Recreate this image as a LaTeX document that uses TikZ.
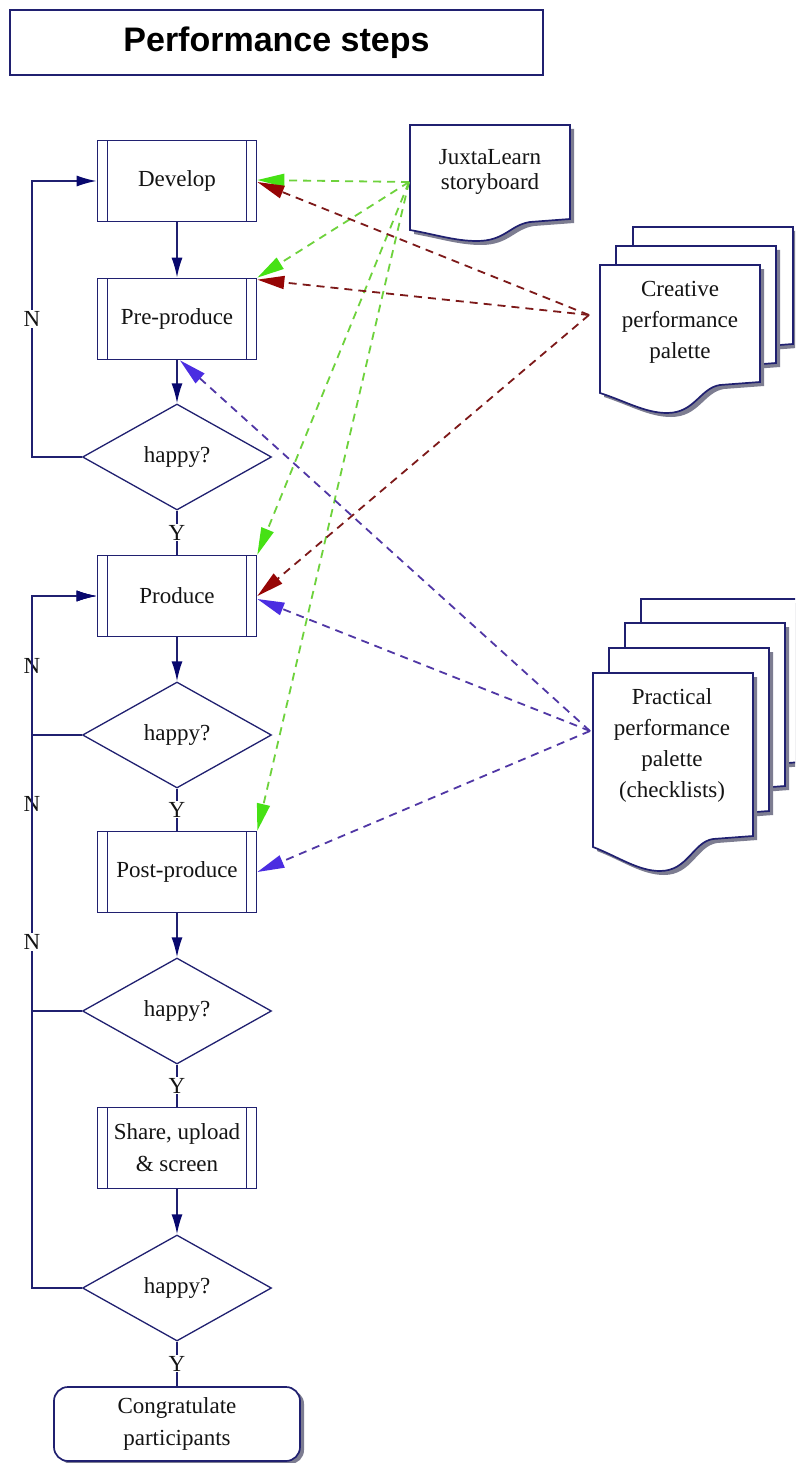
\documentclass[tikz,border=0pt]{standalone}
\usepackage{fontspec}
\setmainfont{Liberation Serif}
\newfontfamily\titlefont{Liberation Sans}
\usetikzlibrary{shapes.geometric,arrows.meta,calc,shadows}
\definecolor{navy}{RGB}{32,32,112}
\definecolor{arrnavy}{RGB}{8,8,110}
\definecolor{textc}{RGB}{20,20,20}
\definecolor{greenl}{RGB}{110,210,60}
\definecolor{greenh}{RGB}{70,225,20}
\definecolor{redl}{RGB}{125,25,25}
\definecolor{redh}{RGB}{150,5,5}
\definecolor{purl}{RGB}{80,55,165}
\definecolor{purh}{RGB}{75,45,225}
\definecolor{shadowc}{RGB}{125,125,145}
% document shape: #1 x0, #2 y0, #3 left height, #4 dip depth
\newcommand{\mydocshape}[4]{%
  \path[fill=shadowc, xshift=4pt, yshift=-4pt]
    (#1,#2) -- ({#1+160},#2) -- ({#1+160},{#2+#3-11}) -- ({#1+120},{#2+#3-8})
    .. controls ({#1+100},{#2+#3-5}) and ({#1+95},{#2+#3+#4}) .. ({#1+67},{#2+#3+#4})
    .. controls ({#1+45},{#2+#3+#4}) and ({#1+25},{#2+#3+0.4*#4}) .. (#1,{#2+#3}) -- cycle;
  \path[fill=white, draw=navy, line width=1.7pt]
    (#1,#2) -- ({#1+160},#2) -- ({#1+160},{#2+#3-11}) -- ({#1+120},{#2+#3-8})
    .. controls ({#1+100},{#2+#3-5}) and ({#1+95},{#2+#3+#4}) .. ({#1+67},{#2+#3+#4})
    .. controls ({#1+45},{#2+#3+#4}) and ({#1+25},{#2+#3+0.4*#4}) .. (#1,{#2+#3}) -- cycle;
}
\begin{document}
\begin{tikzpicture}[x=1pt,y=-1pt,
  font=\fontsize{23}{30}\selectfont,
  every node/.style={text=textc},
  proc/.style={draw=navy, line width=1.7pt, fill=white, minimum width=159pt,
    minimum height=81pt, inner sep=2pt, align=center,
    path picture={
      \draw[navy, line width=1.7pt]
        ($(path picture bounding box.north west)+(10pt,0pt)$) --
        ($(path picture bounding box.south west)+(10pt,0pt)$);
      \draw[navy, line width=1.7pt]
        ($(path picture bounding box.north east)+(-10pt,0pt)$) --
        ($(path picture bounding box.south east)+(-10pt,0pt)$);
    }},
  dec/.style={diamond, draw=navy, line width=1.3pt, fill=white,
    minimum width=189pt, minimum height=106pt, inner sep=0pt},
  flow/.style={draw=navy, line width=1.7pt,
    -{Latex[length=20pt,width=11pt,color=arrnavy]}},
  plain/.style={draw=navy, line width=1.7pt},
  lab/.style={fill=white, inner sep=1pt},
  doctext/.style={align=center, font=\fontsize{23}{31}\selectfont},
  gdash/.style={draw=greenl, line width=1.8pt, dash pattern=on 8pt off 6pt,
    -{Triangle[length=27pt,width=13pt,color=greenh]}},
  rdash/.style={draw=redl, line width=1.8pt, dash pattern=on 8pt off 6pt,
    -{Triangle[length=27pt,width=13pt,color=redh]}},
  pdash/.style={draw=purl, line width=1.8pt, dash pattern=on 8pt off 6pt,
    -{Triangle[length=27pt,width=13pt,color=purh]}}
]
\useasboundingbox (0,0) rectangle (795,1463);
\fill[white] (0,0) rectangle (795,1463);
\clip (0,0) rectangle (795,1463);

% title
\node[draw=navy, line width=1.8pt, minimum width=533pt, minimum height=65pt,
  font=\titlefont\bfseries\fontsize{34}{40}\selectfont, text=black]
  (title) at (276.5,42.5) {Performance steps};

% flow nodes
\node[proc] (dev)  at (177,181) {Develop};
\node[proc] (pre)  at (177,319) {Pre-produce};
\node[dec]  (d1)   at (177,457) {happy?};
\node[proc] (prod) at (177,596) {Produce};
\node[dec]  (d2)   at (177,735) {happy?};
\node[proc] (post) at (177,872) {Post-produce};
\node[dec]  (d3)   at (177,1011) {happy?};
\node[proc, font=\fontsize{23}{32}\selectfont] (share) at (177,1148) {Share, upload\\\& screen};
\node[dec]  (d4)   at (177,1288) {happy?};
\node[draw=navy, line width=1.7pt, fill=white, rounded corners=14pt,
  minimum width=246pt, minimum height=74pt, align=center,
  font=\fontsize{23}{32}\selectfont,
  general shadow={fill=shadowc, shadow xshift=4pt, shadow yshift=-3pt}]
  (cong) at (177,1424) {Congratulate\\participants};

% flow connectors
\draw[flow] (dev) -- (pre);
\draw[flow] (pre) -- (d1);
\draw[plain] (d1) -- node[lab]{Y} (prod);
\draw[flow] (prod) -- (d2);
\draw[plain] (d2) -- node[lab]{Y} (post);
\draw[flow] (post) -- (d3);
\draw[plain] (d3) -- node[lab]{Y} (share);
\draw[flow] (share) -- (d4);
\draw[plain] (d4) -- node[lab]{Y} (cong);

% N loops
\draw[flow] (d1.west) -- ++(-50,0) |- node[pos=0.25,lab]{N} (dev.west);
\draw[flow] (d2.west) -- ++(-50,0) |- node[pos=0.25,lab]{N} (prod.west);
\draw[flow] (d3.west) -- ++(-50,0) |- node[pos=0.25,lab]{N} (prod.west);
\draw[flow] (d4.west) -- ++(-50,0) |- node[pos=0.25,lab]{N} (prod.west);

% documents
\mydocshape{410}{125}{105}{11}
\node[doctext, font=\fontsize{23}{25}\selectfont] (sb) at (490,172) {JuxtaLearn\\storyboard};

\mydocshape{633}{227}{128}{20}
\mydocshape{616}{246}{128}{20}
\mydocshape{600}{265}{128}{20}
\node[doctext] (cp) at (680,322) {Creative\\performance\\palette};

\mydocshape{641}{599}{174}{24}
\mydocshape{625}{623}{174}{24}
\mydocshape{609}{648}{174}{24}
\mydocshape{593}{673}{174}{24}
\node[doctext] (pp) at (672,745) {Practical\\performance\\palette\\(checklists)};

\coordinate (sbL) at (409,182);
\coordinate (cpL) at (589,315);
\coordinate (ppL) at (590,731);

% dashed references
\draw[gdash] (sbL) -- ([yshift=1pt]dev.east);
\draw[gdash] (sbL) -- (pre.north east);
\draw[gdash] (sbL) -- (prod.north east);
\draw[gdash] (sbL) -- (post.north east);

\draw[rdash] (cpL) -- ([yshift=-1pt]dev.east);
\draw[rdash] (cpL) -- ([yshift=-2pt]pre.north east);
\draw[rdash] (cpL) -- (prod.east);

\draw[pdash] (ppL) -- ([xshift=3pt]pre.south);
\draw[pdash] (ppL) -- ([yshift=-3pt]prod.east);
\draw[pdash] (ppL) -- (post.east);
\end{tikzpicture}
\end{document}
